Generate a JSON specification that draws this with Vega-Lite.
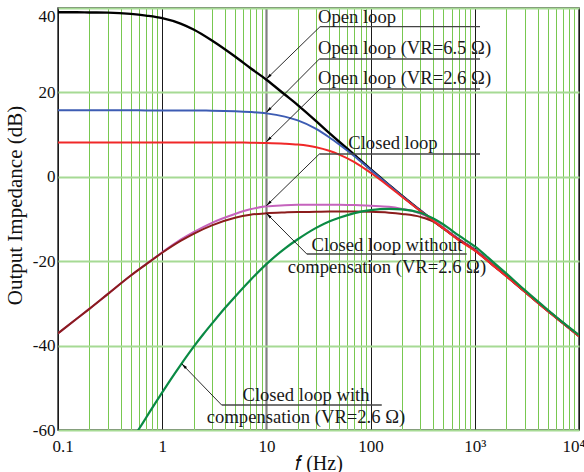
{
  "$schema": "https://vega.github.io/schema/vega-lite/v6.json",
  "width": 521,
  "height": 422,
  "autosize": {"type": "none"},
  "padding": {"left": 58, "top": 8, "right": 5, "bottom": 42},
  "background": "white",
  "config": {"view": {"stroke": "#333333", "strokeWidth": 1.5}, "font": "Liberation Serif"},
  "datasets": {
    "black": [{"f":0.1,"v":39.0},{"f":0.15,"v":39.0},{"f":0.2,"v":38.95},{"f":0.3,"v":38.9},{"f":0.5,"v":38.6},{"f":0.7,"v":38.2},{"f":1,"v":37.6},{"f":1.5,"v":36.3},{"f":2,"v":34.9},{"f":3,"v":32.3},{"f":5,"v":28.5},{"f":7,"v":25.8},{"f":10,"v":23.0},{"f":15,"v":19.5},{"f":20,"v":17.0},{"f":30,"v":13.2},{"f":40,"v":10.4},{"f":50,"v":8.3},{"f":70,"v":5.2},{"f":100,"v":1.8},{"f":150,"v":-1.9},{"f":200,"v":-4.5},{"f":300,"v":-8.0},{"f":400,"v":-10.4},{"f":500,"v":-12.2},{"f":700,"v":-14.8},{"f":1000,"v":-17.3},{"f":1500,"v":-20.9},{"f":2000,"v":-23.4},{"f":3000,"v":-27.1},{"f":5000,"v":-31.7},{"f":7000,"v":-34.6},{"f":10000,"v":-37.7}],
    "blue": [{"f":0.1,"v":15.75},{"f":0.15,"v":15.75},{"f":0.2,"v":15.75},{"f":0.3,"v":15.75},{"f":0.5,"v":15.75},{"f":0.7,"v":15.74},{"f":1,"v":15.74},{"f":1.5,"v":15.73},{"f":2,"v":15.71},{"f":3,"v":15.68},{"f":5,"v":15.54},{"f":7,"v":15.36},{"f":10,"v":15.03},{"f":15,"v":14.26},{"f":20,"v":13.37},{"f":30,"v":11.35},{"f":40,"v":9.37},{"f":50,"v":7.65},{"f":70,"v":4.88},{"f":100,"v":1.64},{"f":150,"v":-1.97},{"f":200,"v":-4.54},{"f":300,"v":-8.02},{"f":400,"v":-10.41},{"f":500,"v":-12.2},{"f":700,"v":-14.8},{"f":1000,"v":-17.3},{"f":1500,"v":-20.9},{"f":2000,"v":-23.4},{"f":3000,"v":-27.1},{"f":5000,"v":-31.7},{"f":7000,"v":-34.6},{"f":10000,"v":-37.7}],
    "red": [{"f":0.1,"v":8.15},{"f":0.15,"v":8.15},{"f":0.2,"v":8.15},{"f":0.3,"v":8.15},{"f":0.5,"v":8.15},{"f":0.7,"v":8.15},{"f":1,"v":8.15},{"f":1.5,"v":8.15},{"f":2,"v":8.14},{"f":3,"v":8.14},{"f":5,"v":8.12},{"f":7,"v":8.08},{"f":10,"v":8.02},{"f":15,"v":7.85},{"f":20,"v":7.63},{"f":30,"v":7.0},{"f":40,"v":6.16},{"f":50,"v":5.26},{"f":70,"v":3.49},{"f":100,"v":0.95},{"f":150,"v":-2.28},{"f":200,"v":-4.72},{"f":300,"v":-8.1},{"f":400,"v":-10.46},{"f":500,"v":-12.25},{"f":700,"v":-15.0},{"f":1000,"v":-17.5},{"f":1500,"v":-21.05},{"f":2000,"v":-23.55},{"f":3000,"v":-27.2},{"f":5000,"v":-31.8},{"f":7000,"v":-34.7},{"f":10000,"v":-37.8}],
    "magenta": [{"f":0.1,"v":-37.1},{"f":0.15,"v":-33.7},{"f":0.2,"v":-31.3},{"f":0.3,"v":-27.8},{"f":0.5,"v":-23.4},{"f":0.7,"v":-20.7},{"f":1,"v":-17.9},{"f":1.5,"v":-14.9},{"f":2,"v":-13.1},{"f":3,"v":-10.9},{"f":5,"v":-8.8},{"f":7,"v":-7.7},{"f":10,"v":-7.0},{"f":15,"v":-6.75},{"f":20,"v":-6.65},{"f":30,"v":-6.6},{"f":40,"v":-6.6},{"f":50,"v":-6.6},{"f":70,"v":-6.7},{"f":100,"v":-6.85},{"f":150,"v":-7.1},{"f":200,"v":-7.6},{"f":300,"v":-8.7},{"f":400,"v":-10.2},{"f":500,"v":-12.1},{"f":700,"v":-14.8},{"f":1000,"v":-17.3},{"f":1500,"v":-20.9},{"f":2000,"v":-23.4},{"f":3000,"v":-27.1},{"f":5000,"v":-31.7},{"f":7000,"v":-34.6},{"f":10000,"v":-37.7}],
    "darkred": [{"f":0.1,"v":-37.1},{"f":0.15,"v":-33.7},{"f":0.2,"v":-31.3},{"f":0.3,"v":-27.8},{"f":0.5,"v":-23.4},{"f":0.7,"v":-20.75},{"f":1,"v":-18.0},{"f":1.5,"v":-15.2},{"f":2,"v":-13.5},{"f":3,"v":-11.5},{"f":5,"v":-9.7},{"f":7,"v":-9.0},{"f":10,"v":-8.65},{"f":15,"v":-8.45},{"f":20,"v":-8.35},{"f":30,"v":-8.3},{"f":40,"v":-8.25},{"f":50,"v":-8.25},{"f":70,"v":-8.25},{"f":100,"v":-8.3},{"f":150,"v":-8.5},{"f":200,"v":-8.8},{"f":300,"v":-9.5},{"f":400,"v":-10.6},{"f":500,"v":-12.25},{"f":700,"v":-14.9},{"f":1000,"v":-17.4},{"f":1500,"v":-20.95},{"f":2000,"v":-23.5},{"f":3000,"v":-27.15},{"f":5000,"v":-31.75},{"f":7000,"v":-34.65},{"f":10000,"v":-37.75}],
    "green": [{"f":0.55,"v":-61.2},{"f":0.6,"v":-59.7},{"f":0.7,"v":-57.1},{"f":0.8,"v":-54.8},{"f":1,"v":-51.1},{"f":1.2,"v":-48.1},{"f":1.5,"v":-44.6},{"f":2,"v":-40.3},{"f":2.5,"v":-37.2},{"f":3,"v":-34.8},{"f":4,"v":-31.1},{"f":5,"v":-28.4},{"f":7,"v":-24.5},{"f":10,"v":-20.7},{"f":15,"v":-17.0},{"f":20,"v":-14.8},{"f":30,"v":-12.1},{"f":40,"v":-10.6},{"f":50,"v":-9.7},{"f":70,"v":-8.6},{"f":100,"v":-7.9},{"f":150,"v":-7.6},{"f":200,"v":-7.7},{"f":300,"v":-8.5},{"f":400,"v":-9.9},{"f":500,"v":-11.3},{"f":700,"v":-13.9},{"f":1000,"v":-16.5},{"f":1500,"v":-20.2},{"f":2000,"v":-22.9},{"f":3000,"v":-26.8},{"f":5000,"v":-31.5},{"f":7000,"v":-34.5},{"f":10000,"v":-37.5}]
  },
  "encoding": {
    "x": {
      "field": "f", "type": "quantitative",
      "scale": {"type": "log", "domain": [0.1, 10000], "nice": false},
      "axis": {
        "values": [0.1,0.2,0.3,0.4,0.5,0.6,0.7,0.8,0.9,1,2,3,4,5,6,7,8,9,10,20,30,40,50,60,70,80,90,100,200,300,400,500,600,700,800,900,1000,2000,3000,4000,5000,6000,7000,8000,9000,10000],
        "labelExpr": "datum.value==0.1?'0.1':datum.value==1?'1':datum.value==10?'10':datum.value==100?'100':datum.value==1000?'10³':datum.value==10000?'10⁴':''",
        "grid": true,
        "gridColor": {"condition": {"test": "datum.value==0.1||datum.value==1||datum.value==10||datum.value==100||datum.value==1000||datum.value==10000", "value": "#1a1a1a"}, "value": "#78c850"},
        "gridOpacity": {"condition": {"test": "datum.value==10", "value": 0.55}, "value": 1},
        "gridWidth": {"condition": {"test": "datum.value==10", "value": 2.2}, "value": 1},
        "ticks": false, "domain": false,
        "labelFont": "Liberation Serif", "labelFontSize": 17, "labelColor": "#111111", "labelPadding": 8,
        "labelFlush": true, "labelFlushOffset": 6, "labelOverlap": false,
        "title": "𝑓 (Hz)", "titleFont": "Liberation Serif", "titleFontSize": 20, "titleFontWeight": "normal", "titleColor": "#111111",
        "titleY": 33, "titleBaseline": "middle"
      }
    },
    "y": {
      "field": "v", "type": "quantitative",
      "scale": {"domain": [-60, 40], "nice": false, "zero": false},
      "axis": {
        "values": [-60,-40,-20,0,20,40],
        "labelExpr": "'' + datum.value",
        "grid": true, "gridColor": "#a6da94", "gridWidth": 2,
        "ticks": false, "domain": false,
        "labelFont": "Liberation Serif", "labelFontSize": 17, "labelColor": "#111111", "labelPadding": 3,
        "labelBaseline": {"condition": {"test": "datum.value==40", "value": "top"}, "value": "middle"},
        "title": "Output Impedance (dB)", "titleFont": "Liberation Serif", "titleFontSize": 21, "titleFontWeight": "normal", "titleColor": "#111111",
        "titleX": -43, "titleY": 197, "titleBaseline": "middle", "titleAlign": "center"
      }
    }
  },
  "layer": [
    {"data": {"name": "black"}, "mark": {"type": "line", "color": "#000000", "strokeWidth": 2.4, "interpolate": "monotone", "clip": true}},
    {"data": {"name": "blue"}, "mark": {"type": "line", "color": "#3d5cb3", "strokeWidth": 2, "interpolate": "monotone", "clip": true}},
    {"data": {"name": "magenta"}, "mark": {"type": "line", "color": "#c563bd", "strokeWidth": 2, "interpolate": "monotone", "clip": true}},
    {"data": {"name": "darkred"}, "mark": {"type": "line", "color": "#8b1c1c", "strokeWidth": 2, "interpolate": "monotone", "clip": true}},
    {"data": {"name": "red"}, "mark": {"type": "line", "color": "#f02828", "strokeWidth": 2, "interpolate": "monotone", "clip": true}},
    {"data": {"name": "green"}, "mark": {"type": "line", "color": "#0a8a44", "strokeWidth": 2.2, "interpolate": "monotone", "clip": true}},
    {
      "data": {"values": [
        {"f":10,"v":23.18,"f2":32.7,"v2":35.57},
        {"f":10,"v":15.28,"f2":32.2,"v2":27.91},
        {"f":10,"v":8.32,"f2":32.7,"v2":20.81},
        {"f":10,"v":-6.85,"f2":32.2,"v2":5.40},
        {"f":10,"v":-8.65,"f2":24.4,"v2":-18.29},
        {"f":1.54,"v":-44.3,"f2":3.72,"v2":-54.08}
      ]},
      "mark": {"type": "rule", "color": "#111111", "strokeWidth": 0.9},
      "encoding": {"x2": {"field": "f2"}, "y2": {"field": "v2"}}
    },
    {
      "data": {"values": [
        {"f":32.7,"v":35.57,"f2":1122},
        {"f":32.2,"v":27.91,"f2":1122},
        {"f":32.7,"v":20.81,"f2":1122},
        {"f":32.2,"v":5.40,"f2":1122},
        {"f":24.4,"v":-18.29,"f2":836},
        {"f":3.72,"v":-54.08,"f2":128}
      ]},
      "mark": {"type": "rule", "color": "#444444", "strokeWidth": 1.3},
      "encoding": {"x2": {"field": "f2"}}
    },
    {
      "data": {"values": [
        {"f":10,"v":23.18},{"f":10,"v":15.28},{"f":10,"v":8.32},{"f":10,"v":-6.85}
      ]},
      "mark": {"type": "point", "shape": "M0,0L0.45,2L-0.45,2Z", "filled": true, "color": "#000000", "opacity": 1, "size": 36, "angle": 225}
    },
    {
      "data": {"values": [
        {"f":10,"v":-8.65},{"f":1.54,"v":-44.3}
      ]},
      "mark": {"type": "point", "shape": "M0,0L0.45,2L-0.45,2Z", "filled": true, "color": "#000000", "opacity": 1, "size": 36, "angle": 315}
    },
    {
      "data": {"values": [
        {"f":31.3,"v":37.94,"t":"Open loop"},
        {"f":31.3,"v":30.45,"t":"Open loop (VR=6.5 Ω)"},
        {"f":31.3,"v":23.34,"t":"Open loop (VR=2.6 Ω)"},
        {"f":61.1,"v":7.94,"t":"Closed loop"}
      ]},
      "mark": {"type": "text", "align": "left", "baseline": "middle", "font": "Liberation Serif", "fontSize": 18.6, "color": "#1a1a1a"},
      "encoding": {"text": {"field": "t"}}
    },
    {
      "data": {"values": [
        {"f":143.6,"v":-16.16,"t":"Closed loop without"},
        {"f":143.6,"v":-21.45,"t":"compensation (VR=2.6 Ω)"},
        {"f":24.0,"v":-51.71,"t":"Closed loop with"},
        {"f":24.0,"v":-56.85,"t":"compensation (VR=2.6 Ω)"}
      ]},
      "mark": {"type": "text", "align": "center", "baseline": "middle", "font": "Liberation Serif", "fontSize": 18.6, "color": "#1a1a1a"},
      "encoding": {"text": {"field": "t"}}
    }
  ]
}
